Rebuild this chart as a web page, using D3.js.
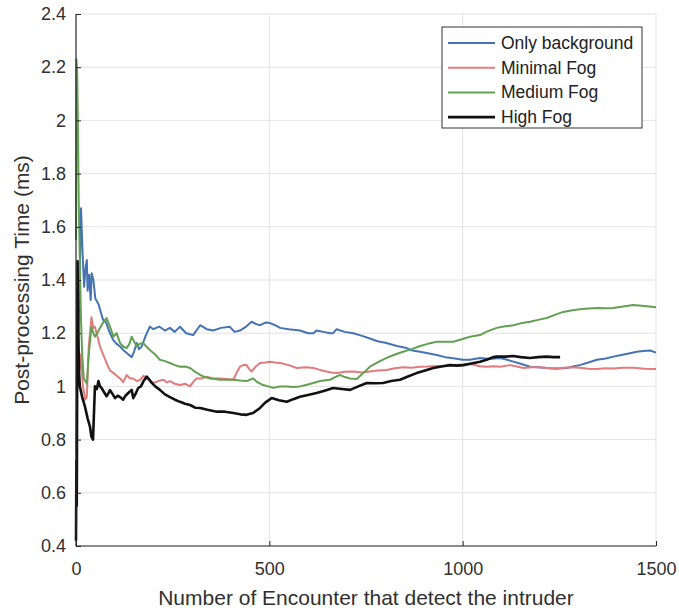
<!DOCTYPE html>
<html>
<head>
<meta charset="utf-8">
<script src="https://cdn.jsdelivr.net/npm/d3@7/dist/d3.min.js"></script>
<style>
  html, body { margin: 0; padding: 0; background: #fff; }
  svg { display: block; font-family: "Liberation Sans", Arial, sans-serif; }
</style>
</head>
<body>
<svg id="chart" width="679" height="611"></svg>
<script>
// Running mean of post-processing time per number of encounters, four fog levels.
const seriesNames = ["Only background", "Minimal Fog", "Medium Fog", "High Fog"];
const seriesColors = ["#4573b3", "#e27b7d", "#63a152", "#111111"];
const seriesWidths = [2, 2, 2, 2.6];

const xTicks = [0, 500, 1000, 1500];
const yTicks = [0.4, 0.6, 0.8, 1, 1.2, 1.4, 1.6, 1.8, 2, 2.2, 2.4];
const yTickLabels = ["0.4", "0.6", "0.8", "1", "1.2", "1.4", "1.6", "1.8", "2", "2.2", "2.4"];

const onlyBackground = [
  [3,1.0],[8,1.3],[13,1.67],[17,1.5],[21,1.375],[25,1.45],[28,1.475],[30,1.36],[34,1.42],[38,1.325],
  [40.5,1.425],[45,1.40],[50,1.33],[58,1.31],[64,1.28],[70,1.25],[78,1.24],[85,1.21],[96,1.175],[105,1.16],
  [114,1.15],[122,1.137],[132,1.125],[144,1.11],[150,1.13],[157,1.163],[163,1.14],[170,1.15],[180,1.19],[191,1.225],
  [200,1.215],[215,1.225],[230,1.21],[243,1.22],[255,1.205],[269,1.224],[285,1.2],[303,1.193],[321,1.23],[338,1.215],
  [355,1.21],[375,1.22],[398,1.224],[410,1.205],[424,1.21],[440,1.225],[454,1.243],[465,1.235],[476,1.23],[490,1.24],
  [502,1.238],[515,1.23],[528,1.22],[550,1.215],[579,1.21],[600,1.2],[614,1.20],[622,1.21],[640,1.205],[657,1.20],
  [665,1.20],[674,1.215],[695,1.205],[717,1.20],[740,1.19],[760,1.18],[780,1.17],[803,1.163],[830,1.152],[855,1.144],
  [870,1.135],[890,1.13],[910,1.125],[933,1.118],[955,1.11],[976,1.106],[1000,1.10],[1019,1.10],[1045,1.107],[1070,1.103],
  [1097,1.107],[1115,1.1],[1131,1.093],[1150,1.085],[1174,1.074],[1195,1.072],[1217,1.069],[1240,1.066],[1269,1.069],[1285,1.075],
  [1303,1.08],[1325,1.09],[1347,1.10],[1370,1.105],[1390,1.112],[1410,1.118],[1433,1.125],[1450,1.13],[1467,1.133],[1485,1.135],
  [1500,1.127]
];

const minimalFog = [
  [1,0.75],[4,1.15],[8,1.05],[12,1.12],[18,1.0],[24,0.95],[28,0.96],[33,1.15],[40,1.26],[45,1.22],
  [49,1.224],[55,1.19],[62,1.15],[70,1.12],[79,1.088],[88,1.06],[97,1.05],[105,1.04],[114,1.03],[122,1.016],
  [131,1.043],[140,1.03],[148,1.03],[157,1.02],[166,1.025],[175,1.04],[183,1.03],[192,1.02],[200,1.013],[213,1.02],
  [226,1.025],[235,1.015],[243,1.02],[255,1.01],[269,1.005],[282,1.01],[295,1.0],[305,1.02],[312,1.03],[325,1.03],
  [338,1.036],[355,1.03],[372,1.03],[390,1.028],[407,1.025],[415,1.05],[424,1.074],[433,1.08],[441,1.08],[448,1.065],
  [454,1.056],[465,1.075],[476,1.088],[490,1.09],[502,1.093],[515,1.09],[528,1.088],[550,1.08],[571,1.069],[595,1.072],
  [614,1.069],[631,1.062],[648,1.056],[660,1.052],[674,1.05],[695,1.055],[717,1.056],[740,1.052],[760,1.056],[780,1.06],
  [803,1.062],[825,1.068],[846,1.072],[868,1.07],[890,1.074],[910,1.075],[933,1.077],[955,1.078],[976,1.08],[1000,1.082],
  [1019,1.084],[1045,1.076],[1062,1.074],[1080,1.076],[1097,1.074],[1122,1.08],[1140,1.075],[1157,1.069],[1180,1.072],[1200,1.072],
  [1225,1.068],[1252,1.069],[1280,1.072],[1303,1.07],[1325,1.066],[1347,1.065],[1370,1.068],[1390,1.067],[1415,1.07],[1441,1.07],
  [1470,1.066],[1500,1.065]
];

const mediumFog = [
  [0,1.55],[1,2.23],[3,2.18],[5,1.98],[7,1.7],[10,1.45],[13,1.25],[16,1.12],[20,1.03],[24,1.02],
  [28,1.01],[33,1.12],[40,1.224],[45,1.2],[49,1.187],[55,1.2],[62,1.22],[70,1.24],[79,1.257],[88,1.224],
  [97,1.187],[105,1.2],[114,1.163],[122,1.15],[131,1.144],[138,1.16],[144,1.187],[150,1.17],[157,1.15],[165,1.16],
  [174,1.163],[182,1.15],[191,1.137],[205,1.12],[217,1.10],[230,1.095],[243,1.088],[256,1.08],[269,1.074],[282,1.075],
  [295,1.069],[308,1.055],[321,1.043],[334,1.035],[347,1.03],[360,1.028],[372,1.025],[390,1.025],[407,1.025],[425,1.022],
  [441,1.02],[450,1.025],[458,1.03],[470,1.015],[484,1.005],[497,1.0],[510,0.995],[528,1.0],[545,1.0],[562,0.998],
  [579,1.0],[597,1.006],[614,1.013],[631,1.02],[657,1.025],[670,1.035],[683,1.043],[695,1.035],[709,1.03],[726,1.028],
  [743,1.05],[760,1.074],[780,1.09],[803,1.107],[825,1.12],[846,1.13],[868,1.14],[890,1.152],[910,1.16],[933,1.168],
  [955,1.168],[976,1.168],[1000,1.178],[1019,1.187],[1045,1.193],[1062,1.206],[1088,1.22],[1110,1.226],[1131,1.23],[1150,1.237],
  [1174,1.243],[1195,1.25],[1217,1.257],[1240,1.27],[1260,1.28],[1280,1.285],[1303,1.29],[1325,1.293],[1347,1.295],[1370,1.294],
  [1390,1.295],[1415,1.3],[1441,1.306],[1470,1.302],[1500,1.298]
];

const highFog = [
  [0,0.42],[1,0.72],[2,0.55],[3,1.0],[4,1.47],[6,1.2],[8,1.05],[10,1.0],[16,0.96],[23,0.925],
  [30,0.88],[36,0.85],[40,0.81],[44,0.80],[49,1.0],[54,0.99],[58,1.02],[62,1.0],[66,0.994],[72,0.98],
  [79,0.963],[84,0.975],[88,0.986],[95,0.97],[101,0.956],[108,0.965],[114,0.96],[122,0.95],[128,0.965],[135,0.975],
  [144,0.987],[148,0.956],[155,0.975],[161,0.994],[168,1.0],[174,1.018],[183,1.037],[190,1.025],[196,1.013],[205,1.0],
  [217,0.987],[230,0.97],[243,0.96],[256,0.95],[269,0.942],[282,0.935],[295,0.93],[308,0.92],[321,0.919],[340,0.912],
  [364,0.905],[385,0.905],[407,0.9],[425,0.895],[441,0.893],[458,0.9],[476,0.919],[490,0.94],[506,0.956],[525,0.948],
  [545,0.942],[562,0.952],[579,0.961],[600,0.968],[622,0.975],[645,0.985],[665,0.994],[688,0.99],[709,0.987],[730,1.0],
  [752,1.013],[775,1.012],[794,1.013],[815,1.02],[838,1.025],[860,1.038],[881,1.05],[903,1.06],[924,1.069],[945,1.075],
  [967,1.08],[985,1.078],[1002,1.08],[1019,1.085],[1045,1.093],[1062,1.1],[1079,1.11],[1088,1.112],[1110,1.112],[1131,1.114],
  [1150,1.11],[1174,1.107],[1195,1.11],[1217,1.112],[1235,1.11],[1252,1.11]
];

const allSeries = [onlyBackground, minimalFog, mediumFog, highFog];

const width = 679, height = 611;
const margin = { top: 14, right: 23, bottom: 65, left: 76 };
const plotW = width - margin.left - margin.right;
const plotH = height - margin.top - margin.bottom;

const svg = d3.select("#chart");
const g = svg.append("g").attr("transform", `translate(${margin.left},${margin.top})`);

const x = d3.scaleLinear().domain([0, 1500]).range([0, plotW]);
const y = d3.scaleLinear().domain([0.4, 2.4]).range([plotH, 0]);

// grid
g.append("g").selectAll("line").data(yTicks).join("line")
  .attr("x1", 0).attr("x2", plotW)
  .attr("y1", d => y(d)).attr("y2", d => y(d))
  .attr("stroke", "#e3e3e3").attr("stroke-width", 1);
g.append("g").selectAll("line").data(xTicks.filter(d => d > 0)).join("line")
  .attr("x1", d => x(d)).attr("x2", d => x(d))
  .attr("y1", 0).attr("y2", plotH)
  .attr("stroke", "#e3e3e3").attr("stroke-width", 1);

// series lines
const line = d3.line().x(d => x(d[0])).y(d => y(d[1]));
allSeries.forEach((data, i) => {
  g.append("path")
    .datum(data)
    .attr("fill", "none")
    .attr("stroke", seriesColors[i])
    .attr("stroke-width", seriesWidths[i])
    .attr("stroke-linejoin", "round")
    .attr("d", line);
});

// axes with inward ticks
const xAxis = d3.axisBottom(x).tickValues(xTicks).tickSize(-5).tickPadding(16).tickFormat(d3.format("d"));
const yAxis = d3.axisLeft(y).tickValues(yTicks).tickSize(-5).tickPadding(10)
  .tickFormat((d, i) => yTickLabels[i]);

const gx = g.append("g").attr("transform", `translate(0,${plotH})`).call(xAxis);
const gy = g.append("g").call(yAxis);
[gx, gy].forEach(a => {
  a.select(".domain").attr("stroke", "#262626").attr("stroke-width", 1.2);
  a.selectAll(".tick line").attr("stroke", "#262626");
  a.selectAll(".tick text").attr("fill", "#303030").style("font-size", "18px")
    .style("font-family", "'Liberation Sans', Arial, sans-serif");
});
gx.select(".domain").attr("d", `M0,0H${plotW}`);
gy.select(".domain").attr("d", `M0,${plotH}V0`);

// axis titles
svg.append("text")
  .attr("x", margin.left + plotW / 2).attr("y", 605)
  .attr("text-anchor", "middle")
  .attr("fill", "#303030").style("font-size", "21px")
  .text("Number of Encounter that detect the intruder");
svg.append("text")
  .attr("transform", `translate(29,${margin.top + plotH / 2}) rotate(-90)`)
  .attr("text-anchor", "middle")
  .attr("fill", "#303030").style("font-size", "21px")
  .text("Post-processing Time (ms)");

// legend
const legend = svg.append("g").attr("transform", "translate(442,27)");
legend.append("rect")
  .attr("width", 200).attr("height", 101)
  .attr("fill", "#fff").attr("stroke", "#333").attr("stroke-width", 1);
seriesNames.forEach((name, i) => {
  const ly = 16 + i * 24.7;
  legend.append("line")
    .attr("x1", 6).attr("x2", 53).attr("y1", ly).attr("y2", ly)
    .attr("stroke", seriesColors[i]).attr("stroke-width", seriesWidths[i]);
  legend.append("text")
    .attr("x", 59).attr("y", ly + 6)
    .attr("fill", "#222").style("font-size", "17.5px")
    .text(name);
});
</script>
</body>
</html>
